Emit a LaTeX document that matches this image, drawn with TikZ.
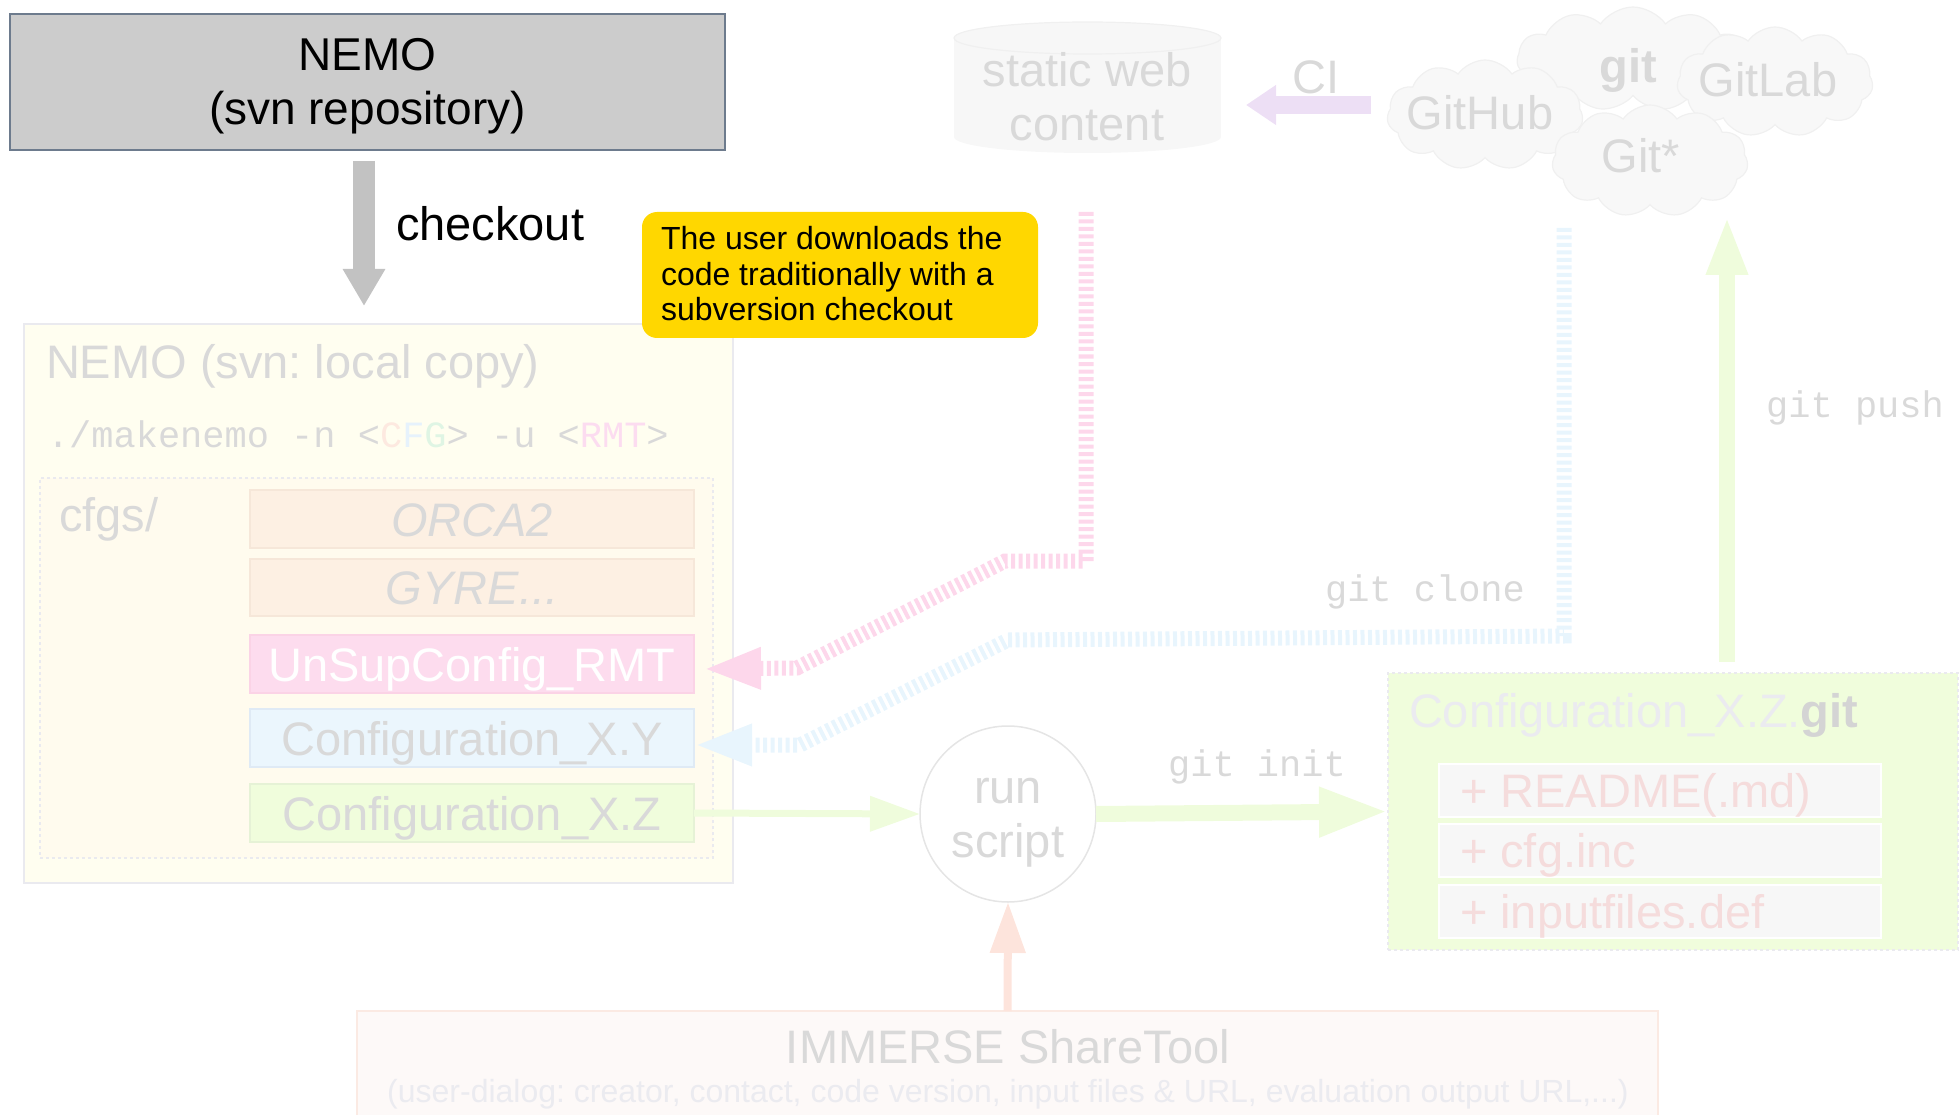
\documentclass[tikz,border=0pt]{standalone}
\usepackage{fontspec}
\setmainfont{Liberation Sans}
\setmonofont{Liberation Mono}
\frenchspacing
\usetikzlibrary{arrows.meta,shapes.symbols,shapes.geometric}
\definecolor{txtgray}{HTML}{D9D9D9}
\definecolor{lighttxt}{HTML}{EBEBF0}
\definecolor{svnfill}{HTML}{CCCCCC}
\definecolor{svnline}{HTML}{6D7B8D}
\definecolor{ivory}{HTML}{FFFEF0}
\definecolor{ivoryin}{HTML}{FFFBEE}
\definecolor{boxline}{HTML}{EAEAEF}
\definecolor{peach}{HTML}{FDF0E3}
\definecolor{peachline}{HTML}{F6E7D9}
\definecolor{pinkbox}{HTML}{FDDCEE}
\definecolor{pinkboxline}{HTML}{FBD3E6}
\definecolor{bluebox}{HTML}{EBF6FD}
\definecolor{blueboxline}{HTML}{DFEAF5}
\definecolor{greenbox}{HTML}{F0FDDC}
\definecolor{greenboxline}{HTML}{E6F2D6}
\definecolor{pinkconn}{HTML}{FDD7EB}
\definecolor{blueconn}{HTML}{E8F5FD}
\definecolor{greenarr}{HTML}{EFFCDC}
\definecolor{salmon}{HTML}{FDE4DC}
\definecolor{lav}{HTML}{EDDFF5}
\definecolor{gold}{HTML}{FFD700}
\definecolor{lightbox}{HTML}{F7F7F7}
\definecolor{cloudfill}{HTML}{F8F8F8}
\definecolor{cloudline}{HTML}{F0F0F0}
\definecolor{readme}{HTML}{F5DCDC}
\definecolor{gitbold}{HTML}{D4D4D4}
\definecolor{sharefill}{HTML}{FDF9F8}
\definecolor{shareline}{HTML}{FBEAE3}
\definecolor{runline}{HTML}{E5E5E5}
\definecolor{chkgray}{HTML}{C2C2C2}
\definecolor{cfgC}{HTML}{FDE9E0}
\definecolor{cfgF}{HTML}{E6F2FC}
\definecolor{cfgG}{HTML}{DFF5E4}
\definecolor{rmt}{HTML}{FCDCF0}
\newcommand\bigf{\fontsize{47pt}{54pt}\selectfont}
\newcommand\svnf{\fontsize{46pt}{54pt}\selectfont}
\newcommand\notef{\fontsize{32pt}{35.5pt}\selectfont}
\newcommand\monof{\fontsize{37pt}{42pt}\selectfont\ttfamily}
\newcommand\subf{\fontsize{32pt}{36pt}\selectfont}
\tikzset{
  itembox/.style={draw=#1line, fill=#1, line width=1.5pt, minimum width=444pt, minimum height=58pt,
     text height=34pt, text depth=0pt, font=\bigf, text=txtgray},
  filebox/.style={draw=white, fill=lightbox, line width=2pt, minimum width=442pt, minimum height=53pt},
  conn/.style={line width=15pt, dash pattern=on 4pt off 3.5pt, -{Triangle[length=58pt,width=38pt]}},
  cloudsh/.style={cloud, cloud puffs=11, cloud puff arc=110, fill=cloudfill, draw=cloudline, line width=1.2pt, aspect=1.8},
  lbl/.style={text=txtgray, font=\bigf},
  mono/.style={text=txtgray, font=\monof},
}
\begin{document}
\begin{tikzpicture}[x=1pt,y=-1pt, every node/.style={inner sep=0pt, outer sep=0pt}]
\useasboundingbox (0,0) rectangle (1960,1115);

% --- svn repository
\node[draw=svnline, fill=svnfill, line width=2.5pt, minimum width=715pt, minimum height=136pt] (svn) at (367.5,82) {};
\node[anchor=base, align=center, font=\svnf] (svntxt) at (367.5,125) {NEMO\\(svn repository)};

% --- local copy
\node[draw=boxline, fill=ivory, line width=2pt, minimum width=709pt, minimum height=559pt] (local) at (378.5,603.5) {};
\node[lbl, anchor=base west] (localtitle) at (46,378) {NEMO (svn: local copy)};
\node[mono, anchor=base west] (make) at (47,447) {./makenemo -n <\textcolor{cfgC}{C}\textcolor{cfgF}{F}\textcolor{cfgG}{G}> -u <\textcolor{rmt}{RMT}>};
\node[draw=boxline, fill=ivoryin, dashed, line width=1.2pt, minimum width=673pt, minimum height=380pt] (cfgs) at (376.5,668) {};
\node[lbl, anchor=base west] (cfgstxt) at (59,531) {cfgs/};
\node[itembox=peach] (orca) at (472,519) {\itshape ORCA2};
\node[itembox=peach, minimum height=57pt] (gyre) at (472,587.5) {\itshape GYRE...};
\node[itembox=pinkbox, text=white] (unsup) at (472,664) {UnSupConfig\_RMT};
\node[itembox=bluebox] (xy) at (472,738) {Configuration\_X.Y};
\node[itembox=greenbox] (xz) at (472,813) {Configuration\_X.Z};

% --- checkout
\draw[chkgray, line width=22pt, -{Triangle[length=37pt,width=40pt]}] ([xshift=-3.5pt,yshift=-11pt]svn.south) -- ([xshift=-14.5pt,yshift=18pt]local.north);
\node[anchor=base west, font=\bigf] (chk) at (396,241) {checkout};

% --- note
\node[fill=gold, rounded corners=15pt, minimum width=396pt, minimum height=126pt] (note) at (840,275) {};
\node[anchor=base west, align=left, font=\notef] (notetxt) at (661,321) {The user downloads the\\code traditionally with a\\subversion checkout};

% --- static web content (cylinder)
\fill[lightbox] (954,38) rectangle (1221,137);
\fill[lightbox] (1087.5,137) ellipse [x radius=133.5pt, y radius=16pt];
\filldraw[fill=lightbox, draw=cloudline, line width=1.2pt] (1087.5,38) ellipse [x radius=133.5pt, y radius=16pt];
\node[anchor=base, align=center, font=\bigf, text=txtgray] (web) at (1087,141) {static web\\content};
\coordinate (cyleast) at (1221,105);

% --- clouds
\node[cloudsh, minimum width=232pt, minimum height=104pt] (cgit) at (1633,59) {};
\node[cloudsh, minimum width=196pt, minimum height=110pt] (chub) at (1485,115) {};
\node[cloudsh, minimum width=196pt, minimum height=110pt] (clab) at (1775,82) {};
\node[cloudsh, minimum width=196pt, minimum height=112pt] (cstar) at (1650,161) {};
\node[anchor=base, font=\bigf\bfseries, text=txtgray] (tgit) at (1628,83) {git};
\node[anchor=base, font=\bigf, text=txtgray] (thub) at (1480,130) {GitHub};
\node[anchor=base, font=\bigf, text=txtgray] (tlab) at (1768,97) {GitLab};
\node[anchor=base, font=\bigf, text=txtgray] (tstar) at (1641,173) {Git*};

% --- CI arrow
\coordinate (citail) at (1371,105);
\draw[lav, line width=18pt, -{Triangle[length=30pt,width=38pt]}] (citail) -- ([xshift=25pt]cyleast);
\node[anchor=base, font=\bigf, text=txtgray] (ci) at (1316,94) {CI};

% --- pink connector (svn checkout)
\coordinate (pinktop) at (1086,212);
\draw[conn, pinkconn] (pinktop) -- (1086,561) -- (1005,561) -- (797,668) -- ([xshift=9pt,yshift=-5pt]unsup.east);

% --- blue connector (git clone)
\coordinate (bluetop) at (1564,228);
\draw[conn, blueconn] (bluetop) -- (1564,636) -- (1008,640) -- (800,745) -- ([yshift=-7pt]xy.east);
\node[mono, anchor=base] (clone) at (1425,601) {git clone};

% --- run script
\node[circle, draw=runline, fill=white, line width=1.5pt, minimum size=176pt] (run) at (1008,814) {};
\node[anchor=base, align=center, font=\bigf, text=txtgray] (runtxt) at (1008,857) {run\\script};

% --- Configuration_X.Z.git
\node[draw=boxline, fill=greenbox, dashed, line width=1.2pt, minimum width=570pt, minimum height=277pt] (cfggit) at (1673,811.5) {};
\node[anchor=base west, font=\bigf, text=lighttxt] (cfggittxt) at (1409,727) {Configuration\_X.Z.\textcolor{gitbold}{\bfseries git}};
\node[filebox] (f1) at (1660,790.5) {};
\node[filebox] (f2) at (1660,850.5) {};
\node[filebox] (f3) at (1660,911.5) {};
\node[anchor=base west, font=\bigf, text=readme] (f1t) at (1460,807.5) {+ README(.md)};
\node[anchor=base west, font=\bigf, text=readme] (f2t) at (1460,867.5) {+ cfg.inc};
\node[anchor=base west, font=\bigf, text=readme] (f3t) at (1460,928.5) {+ inputfiles.def};

% --- green arrows
\draw[greenarr, line width=7pt, -{Triangle[length=50pt,width=34pt]}] (xz.east) -- (run.west);
\draw[greenarr, line width=16pt, -{Triangle[length=69pt,width=46pt]}] (run.east) -- (cfggit.west);
\node[mono, anchor=base] (init) at (1257,776) {git init};
\coordinate (pushtip) at (1727,216);
\draw[greenarr, line width=16pt, -{Triangle[length=59pt,width=38pt]}] ([xshift=54pt,yshift=11pt]cfggit.north) -- (pushtip);
\node[mono, anchor=base] (push) at (1855,417) {git push};

% --- IMMERSE ShareTool
\node[draw=shareline, fill=sharefill, line width=1.5pt, minimum width=1301pt, minimum height=118pt] (share) at (1007.5,1070) {};
\node[anchor=base, font=\bigf, text=txtgray] (sharetxt) at (1008,1063) {IMMERSE ShareTool};
\node[anchor=base, font=\subf, text=lighttxt] (sharesub) at (1008,1102) {(user-dialog: creator, contact, code version, input files \& URL, evaluation output URL,...)};
\draw[salmon, line width=8pt, -{Triangle[length=51pt,width=34pt]}] (share.north) -- (run.south);
\end{tikzpicture}
\end{document}
